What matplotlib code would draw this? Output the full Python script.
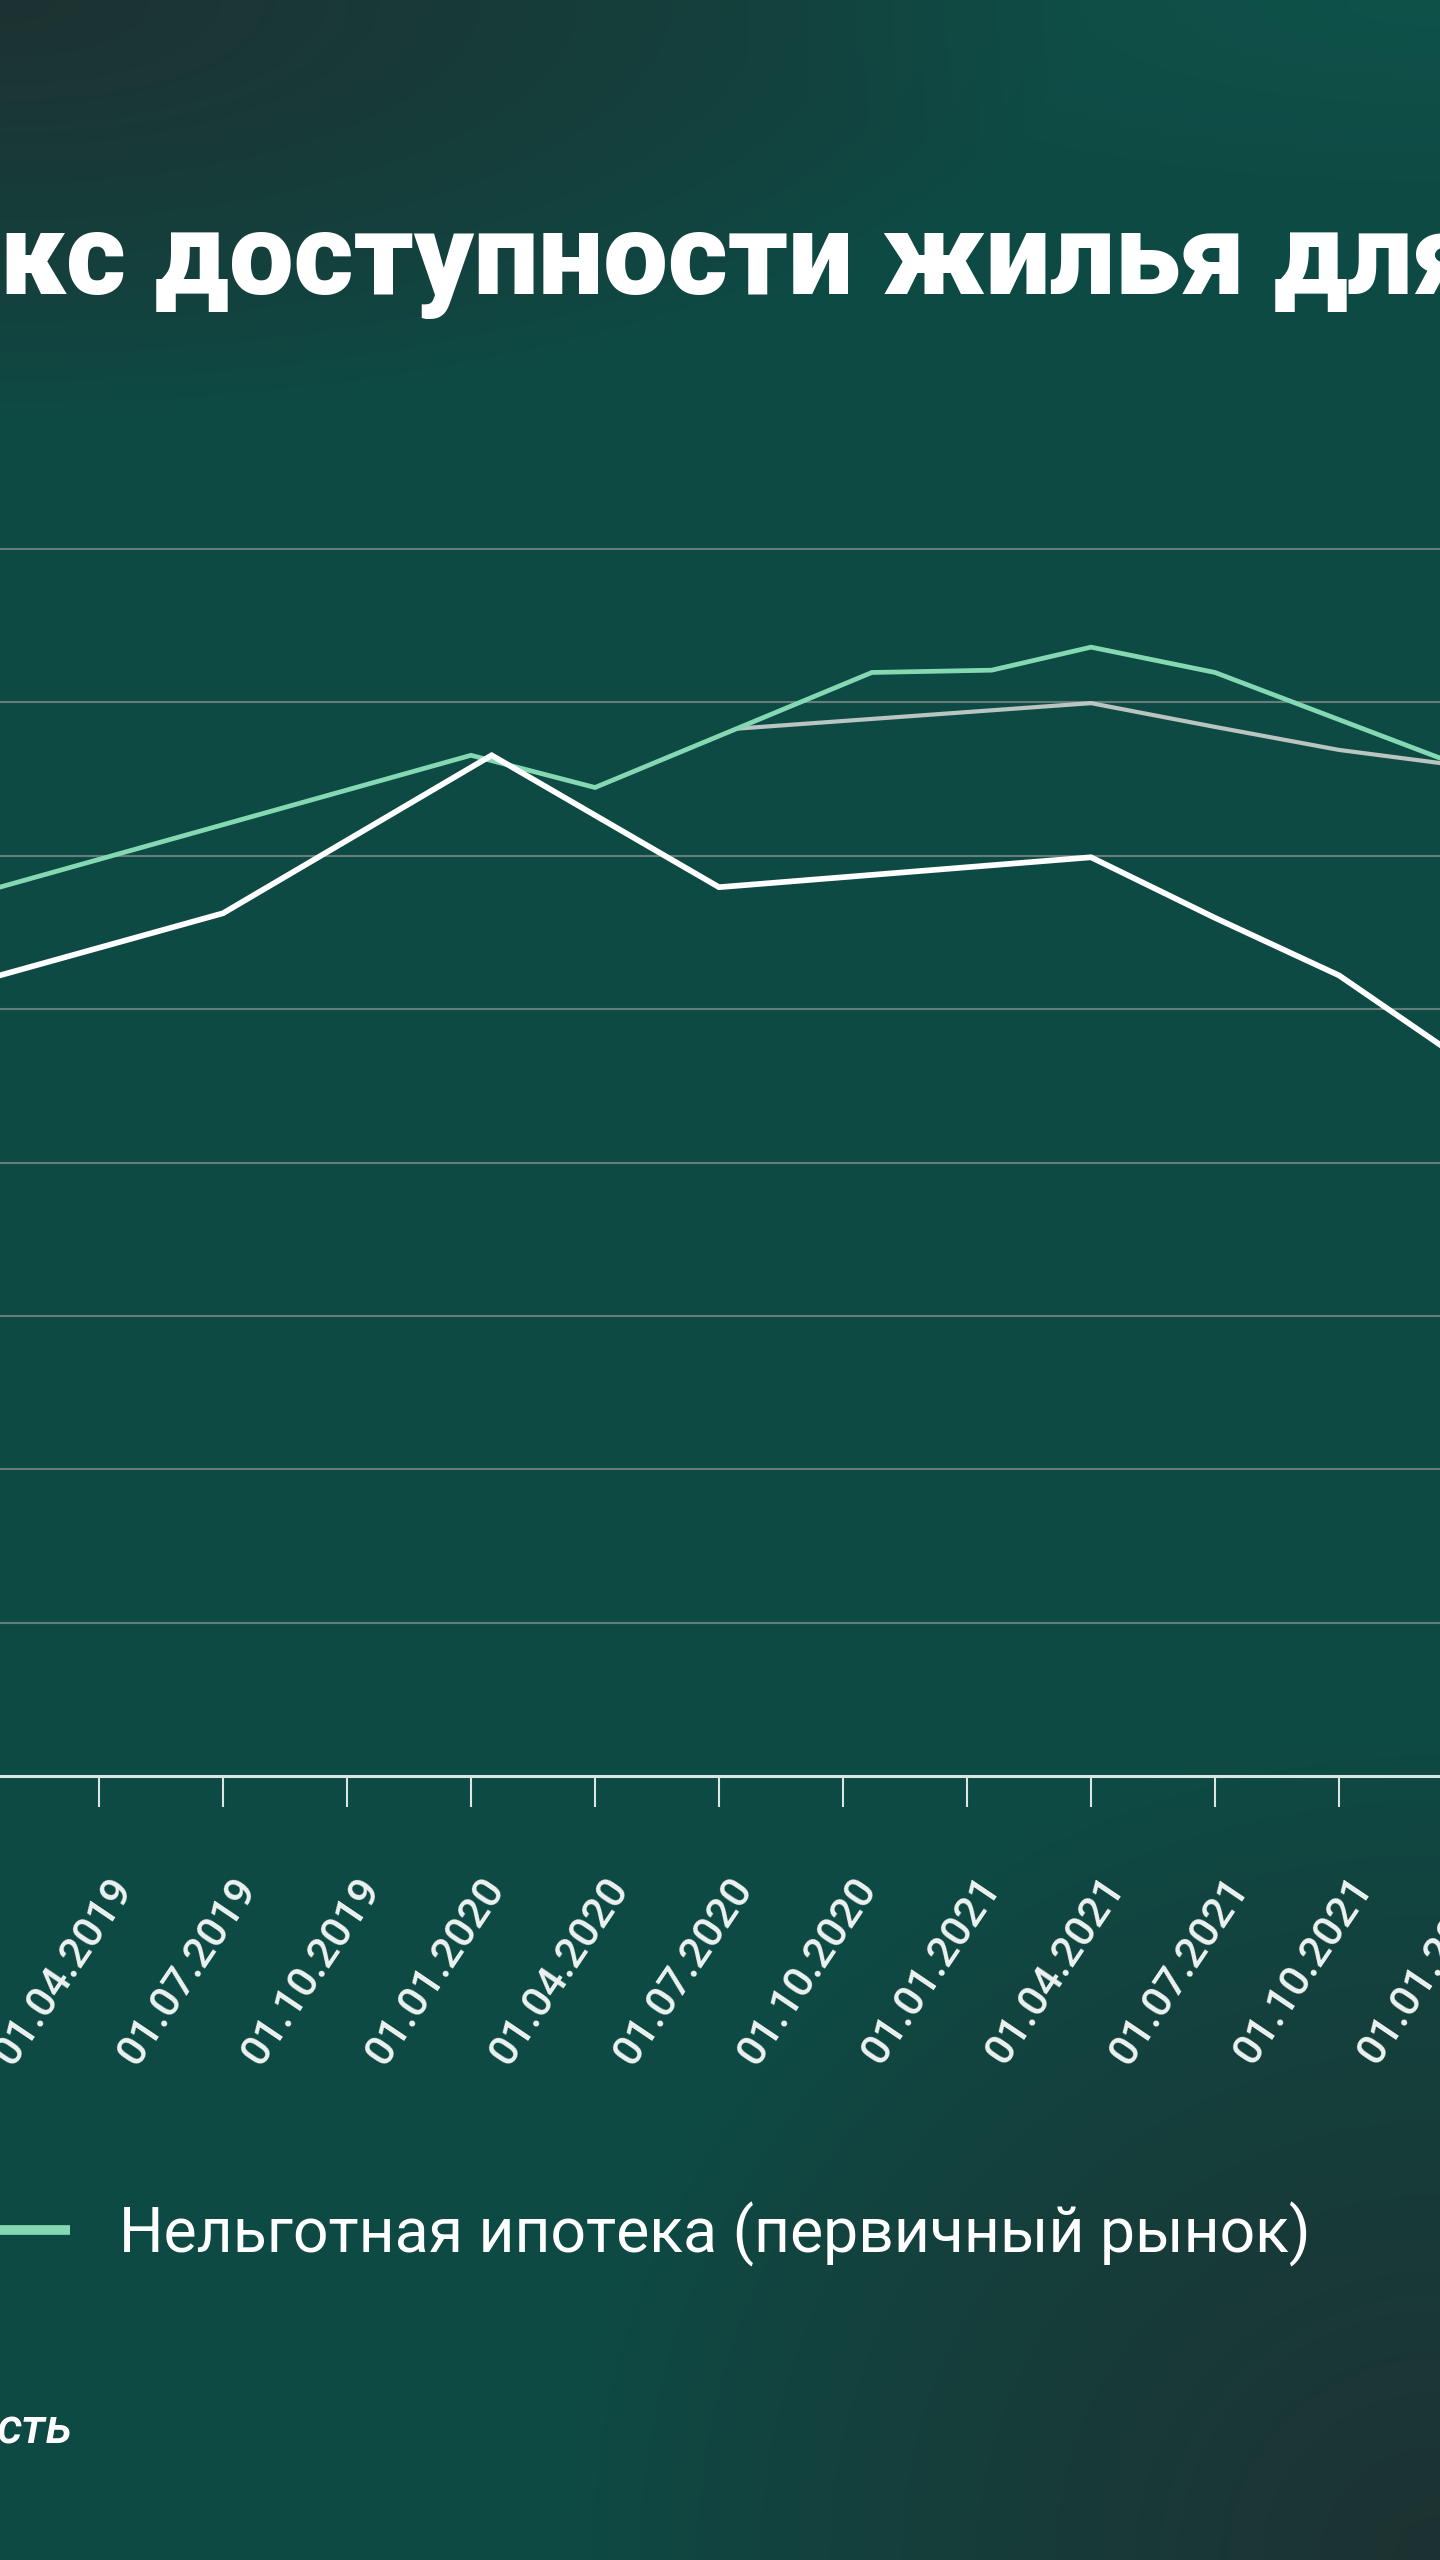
import numpy as np
import matplotlib
matplotlib.use("Agg")
import matplotlib.pyplot as plt
from matplotlib.lines import Line2D
from matplotlib.transforms import ScaledTranslation

# ---------------- data ----------------
title_text = "кс доступности жилья для"
legend_label = "Нельготная ипотека (первичный рынок)"
footer_text = "сть"

# x positions are months since 01.01.2019
tick_months = [3, 6, 9, 12, 15, 18, 21, 24, 27, 30, 33, 36]
tick_labels = ["01.04.2019", "01.07.2019", "01.10.2019",
               "01.01.2020", "01.04.2020", "01.07.2020", "01.10.2020",
               "01.01.2021", "01.04.2021", "01.07.2021", "01.10.2021",
               "01.01.2022"]
grid_values = [20, 40, 60, 80, 100, 120, 140, 160]

green_x = [0, 12, 15, 21.7, 24.6, 27, 30, 36]
green_y = [115.0, 133.1, 128.9, 143.9, 144.2, 147.2, 143.9, 131.6]

gray_x = [18.5, 27, 30, 33, 36]
gray_y = [136.6, 139.9, 136.8, 133.8, 131.7]

white_x = [0, 6, 12.5, 18, 27, 30, 33, 36]
white_y = [103.5, 112.5, 133.1, 115.9, 119.8, 111.9, 104.4, 93.3]

# ---------------- style ----------------
W, H, DPI = 1440, 2560, 100
GREEN = "#84d9b3"
GRAY = "#cdd3d0"
WHITE = "#ffffff"
GRID = "#7d8c87"
AXIS = "#d9e6e2"

plt.rcParams["font.family"] = ["Roboto", "DejaVu Sans"]

fig = plt.figure(figsize=(W / DPI, H / DPI), dpi=DPI)

# background gradient
bg = fig.add_axes([0, 0, 1, 1], zorder=-10)
u = np.linspace(0, 1, 360)[None, :]
v = np.linspace(0, 1, 640)[:, None]
teal = np.array([14, 74, 68]) / 255.0
dark = np.array([29, 50, 50]) / 255.0
w1 = np.clip(1 - np.sqrt((u / 0.75) ** 2 + (v / 0.16) ** 2), 0, 1)
w2 = np.clip(1 - np.sqrt(((1 - u) / 0.6) ** 2 + ((1 - v) / 0.32) ** 2), 0, 1)
w3 = np.clip(1 - np.sqrt(((1 - u) / 0.5) ** 2 + (v / 0.08) ** 2), 0, 1)
w = np.clip(np.maximum(w1, w2) ** 0.8, 0, 1)
img = teal[None, None, :] * (1 - w[..., None]) + dark[None, None, :] * w[..., None]
img = img + (np.array([0, 8, 6]) / 255.0)[None, None, :] * w3[..., None]
bg.imshow(np.clip(img, 0, 1), aspect="auto", extent=[0, 1, 0, 1], interpolation="bilinear")
bg.set_axis_off()

# main axes
px_per_month = 124 / 3.0
m0_px = -25.0
xmin, xmax = -1.5, 37.5
ymin, ymax = 0, 160.5
axis_px = 1776.0
top_px = axis_px - (axis_px - 549.0) * ymax / 160.0
left_px = m0_px + xmin * px_per_month
width_px = (xmax - xmin) * px_per_month
ax = fig.add_axes([left_px / W, (H - axis_px) / H, width_px / W, (axis_px - top_px) / H])
ax.set_facecolor("none")
ax.set_xlim(xmin, xmax)
ax.set_ylim(ymin, ymax)

for s in ["left", "right", "top"]:
    ax.spines[s].set_visible(False)
ax.spines["bottom"].set_color(AXIS)
ax.spines["bottom"].set_linewidth(2.2)

ax.set_yticks(grid_values)
ax.yaxis.grid(True, color=GRID, linewidth=1.5, alpha=0.8)
ax.tick_params(axis="y", left=False, labelleft=False)
ax.set_axisbelow(True)

ax.set_xticks(tick_months)
ax.set_xticklabels(tick_labels)
ax.tick_params(axis="x", length=22.5, width=1.5, color=AXIS, pad=53,
               labelsize=30.5, labelcolor="#edf3f1")
offset = ScaledTranslation(25 / DPI, 0, fig.dpi_scale_trans)
for lab in ax.get_xticklabels():
    lab.set_rotation(56)
    lab.set_horizontalalignment("right")
    lab.set_verticalalignment("center")
    lab.set_rotation_mode("anchor")
    lab.set_fontweight("medium")
    lab.set_transform(lab.get_transform() + offset)

ax.plot(gray_x, gray_y, color=GRAY, lw=3.0, alpha=0.9, zorder=3, solid_joinstyle="miter")
ax.plot(green_x, green_y, color=GREEN, lw=3.4, zorder=4, solid_joinstyle="miter")
ax.plot(white_x, white_y, color=WHITE, lw=4.1, zorder=5, solid_joinstyle="miter")

# title
fig.text(0 / W, 1 - 294 / H, title_text, fontsize=83, fontweight="black",
         color="white", ha="left", va="baseline")

# legend (only visible entry)
fs = 45
fs_px = fs * DPI / 72.0
handle = Line2D([], [], color=GREEN, lw=7, solid_capstyle="butt")
fig.legend(handles=[handle], labels=[legend_label], loc="center left",
           bbox_to_anchor=(-40 / W, 1 - 2234 / H), frameon=False,
           handlelength=110 / fs_px, handletextpad=49 / fs_px,
           borderpad=0, borderaxespad=0, prop={"size": fs},
           labelcolor="white")

# footer fragment
fig.text(-3 / W, 1 - 2443 / H, footer_text, fontsize=36, fontstyle="italic",
         fontweight="medium", color="white", ha="left", va="baseline")

fig.savefig("out.png", dpi=DPI)
